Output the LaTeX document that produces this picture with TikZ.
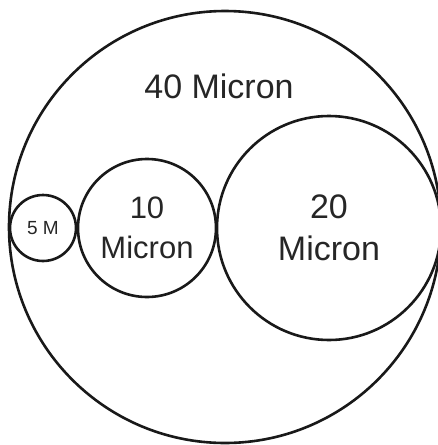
\documentclass[tikz,border=0pt]{standalone}
\usepackage{fontspec}
\setmainfont{Liberation Sans}
\tikzset{
    ring/.style={draw=black!90, circle, line width=2.6pt, inner sep=0pt, align=center},
    big/.style={font=\fontsize{34}{42}\selectfont},
    mid/.style={font=\fontsize{31}{40}\selectfont},
    tiny/.style={font=\fontsize{19}{22}\selectfont}
}
\begin{document}
\begin{tikzpicture}[x=1pt, y=-1pt, text=black!85]
            \useasboundingbox (0,0) rectangle (438,445);

            \node[ring, minimum size=432pt] (outer) at (225,227) {};
            \node[big, anchor=base] (outerlbl) at (219,98) {40 Micron};

            \node[ring, minimum size=224pt, big] (twenty) at (329,228) {20\\Micron};
            \node[ring, minimum size=138pt, mid] (ten) at (147,228) {10\\Micron};
            \node[ring, minimum size=66pt, tiny] (five) at (43,228) {5 M};
        \end{tikzpicture}
\end{document}
